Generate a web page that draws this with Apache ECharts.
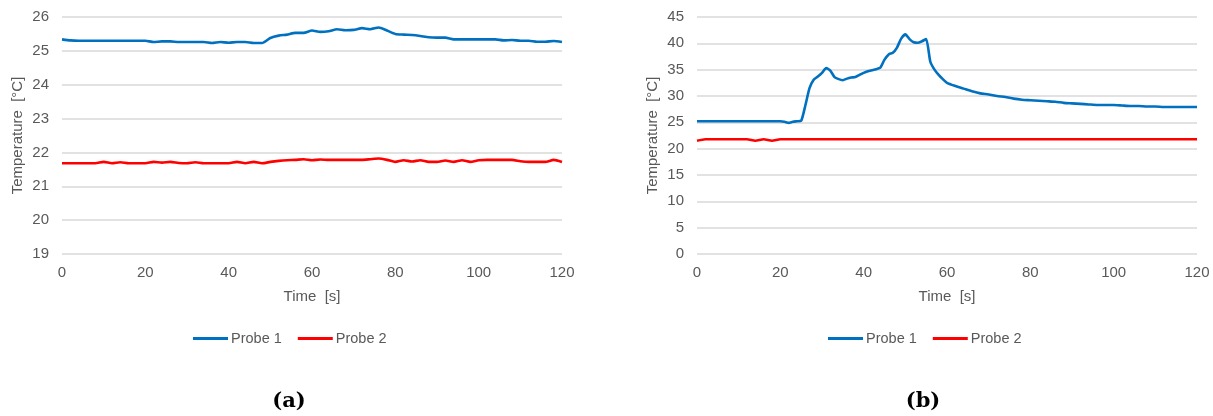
<!DOCTYPE html>
<html>
<head>
<meta charset="utf-8">
<script src="https://cdn.jsdelivr.net/npm/echarts@6/dist/echarts.min.js"></script>
<style>
  html, body { margin: 0; padding: 0; background: #fff; }
  #chart { width: 1213px; height: 416px; }
</style>
</head>
<body>
<div id="chart"></div>
<script>
// (a) both probes, sampled every 2 s
const timeA = [0,2,4,6,8,10,12,14,16,18,20,22,24,26,28,30,32,34,36,38,40,42,44,46,48,50,52,54,56,58,60,
  62,64,66,68,70,72,74,76,78,80,82,84,86,88,90,92,94,96,98,100,102,104,106,108,110,112,114,116,118,120];
const probe1A = [25.34,25.31,25.30,25.30,25.30,25.30,25.30,25.30,25.30,25.30,25.30,25.26,25.28,25.28,25.26,25.26,25.26,25.26,25.23,25.26,25.24,
  25.26,25.26,25.23,25.23,25.38,25.45,25.48,25.53,25.53,25.60,25.56,25.58,25.64,25.61,25.62,25.67,25.64,25.69,25.60,25.50,
  25.48,25.47,25.44,25.40,25.39,25.39,25.34,25.34,25.34,25.34,25.34,25.34,25.31,25.32,25.30,25.30,25.27,25.27,25.29,25.26];
const probe2A = [21.68,21.68,21.68,21.68,21.68,21.72,21.68,21.71,21.68,21.68,21.68,21.72,21.70,21.72,21.69,21.68,21.71,21.68,21.68,21.68,21.68,
  21.72,21.68,21.72,21.68,21.72,21.75,21.77,21.78,21.80,21.77,21.79,21.78,21.78,21.78,21.78,21.78,21.80,21.82,21.78,21.72,
  21.77,21.73,21.77,21.72,21.72,21.76,21.72,21.77,21.72,21.77,21.78,21.78,21.78,21.78,21.74,21.72,21.72,21.72,21.78,21.72];

// (b) both probes, denser sampling around the heating phase
const timeB = [0,2,4,6,8,10,12,14,16,18,20,21,22,23,24,25,26,27,28,29,30,31,32,33,34,35,36,37,38,39,40,
  41,42,43,44,45,46,47,48,49,50,51,52,53,54,55,56,57,58,59,60,62,64,66,68,70,72,74,76,78,80,
  82,84,86,88,90,92,94,96,98,100,102,104,106,108,110,112,114,116,118,120];
const probe1B = [25.2,25.2,25.2,25.2,25.2,25.2,25.2,25.2,25.2,25.2,25.2,25.1,24.9,25.1,25.2,25.3,28.2,31.5,33.1,33.7,34.4,
  35.3,34.8,33.6,33.2,33.0,33.3,33.5,33.6,34.0,34.4,34.7,34.9,35.1,35.4,36.9,37.9,38.2,39.2,40.9,41.7,
  40.8,40.2,40.1,40.4,40.8,36.5,35.0,34.0,33.2,32.5,31.9,31.4,30.9,30.5,30.3,30.0,29.8,29.5,29.3,29.2,
  29.1,29.0,28.9,28.7,28.6,28.5,28.4,28.3,28.3,28.3,28.2,28.1,28.1,28.0,28.0,27.9,27.9,27.9,27.9,27.9];
const probe2B = [21.5,21.8,21.8,21.8,21.8,21.8,21.8,21.5,21.8,21.5,21.8,21.8,21.8,21.8,21.8,21.8,21.8,21.8,21.8,21.8,21.8,
  21.8,21.8,21.8,21.8,21.8,21.8,21.8,21.8,21.8,21.8,21.8,21.8,21.8,21.8,21.8,21.8,21.8,21.8,21.8,21.8,
  21.8,21.8,21.8,21.8,21.8,21.8,21.8,21.8,21.8,21.8,21.8,21.8,21.8,21.8,21.8,21.8,21.8,21.8,21.8,21.8,
  21.8,21.8,21.8,21.8,21.8,21.8,21.8,21.8,21.8,21.8,21.8,21.8,21.8,21.8,21.8,21.8,21.8,21.8,21.8,21.8];

const seriesNames = ['Probe 1', 'Probe 2'];
const panelLabels = ['(a)', '(b)'];
const xName = 'Time  [s]';
const yName = 'Temperature  [°C]';

const BLUE = '#0070C0';
const RED = '#FF0000';
const TEXT = '#595959';
const GRID = '#D9D9D9';
const FONT = 'Liberation Sans, Arial, sans-serif';

const pairs = (xs, ys) => xs.map((x, i) => [x, ys[i]]);

function xAxis(gridIndex) {
  return {
    type: 'value', gridIndex, min: 0, max: 120, interval: 20,
    name: xName, nameLocation: 'middle', nameGap: 35,
    nameTextStyle: { color: TEXT, fontSize: 15, fontFamily: FONT },
    axisLine: { show: false }, axisTick: { show: false }, splitLine: { show: false },
    axisLabel: { color: TEXT, fontSize: 15, fontFamily: FONT, margin: 11 }
  };
}
function yAxis(gridIndex, min, max, interval, gap) {
  return {
    type: 'value', gridIndex, min, max, interval,
    name: yName, nameLocation: 'middle', nameGap: gap,
    nameTextStyle: { color: TEXT, fontSize: 15, fontFamily: FONT },
    axisLine: { show: false }, axisTick: { show: false },
    splitLine: { lineStyle: { color: GRID, width: 1.5 } },
    axisLabel: { color: TEXT, fontSize: 15, fontFamily: FONT, margin: 13 }
  };
}
function line(name, data, color, idx) {
  return {
    name, type: 'line', data, xAxisIndex: idx, yAxisIndex: idx,
    showSymbol: false, smooth: 0.2,
    lineStyle: { color, width: 2.6 }, itemStyle: { color }
  };
}
function legend(left) {
  return {
    data: seriesNames, left, top: 331, padding: 0,
    icon: 'rect', itemWidth: 35, itemHeight: 3, itemGap: 16,
    textStyle: { color: TEXT, fontSize: 14.5, fontFamily: FONT, padding: [0, 0, 0, -2] }
  };
}
function panelLabel(text, x) {
  return {
    type: 'text', x, y: 402,
    style: { text, fill: '#000', font: 'bold 21px "DejaVu Serif", "Liberation Serif", serif',
      align: 'center', verticalAlign: 'middle' }
  };
}

const chart = echarts.init(document.getElementById('chart'), null, { renderer: 'canvas' });
chart.setOption({
  animation: false,
  backgroundColor: '#fff',
  grid: [
    { left: 62, top: 17, width: 500, height: 237 },
    { left: 697, top: 17, width: 500, height: 237 }
  ],
  xAxis: [xAxis(0), xAxis(1)],
  yAxis: [yAxis(0, 19, 26, 1, 37), yAxis(1, 0, 45, 5, 37)],
  legend: [legend(193), legend(828)],
  series: [
    line(seriesNames[0], pairs(timeA, probe1A), BLUE, 0),
    line(seriesNames[1], pairs(timeA, probe2A), RED, 0),
    line(seriesNames[0], pairs(timeB, probe1B), BLUE, 1),
    line(seriesNames[1], pairs(timeB, probe2B), RED, 1)
  ],
  graphic: [panelLabel(panelLabels[0], 289), panelLabel(panelLabels[1], 923)]
});
</script>
</body>
</html>
